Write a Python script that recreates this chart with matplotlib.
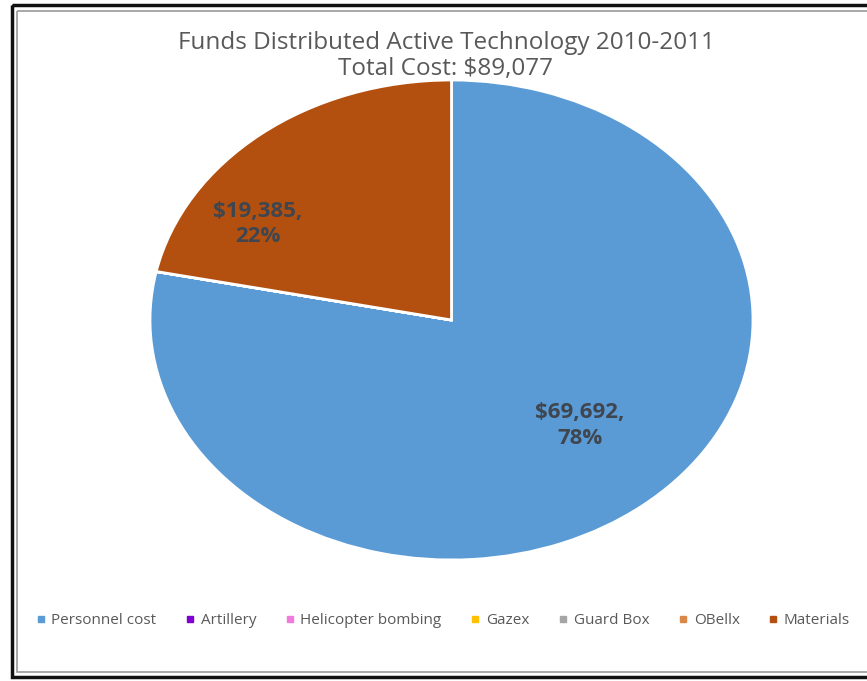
import matplotlib
matplotlib.use("Agg")
import matplotlib.pyplot as plt
from matplotlib.patches import Rectangle
from matplotlib.lines import Line2D

categories = ["Personnel cost", "Artillery", "Helicopter bombing", "Gazex", "Guard Box", "OBellx", "Materials"]
values = [69692, 0, 0, 0, 0, 0, 19385]
colors = ["#5B9BD5", "#7F00D0", "#F07BDC", "#FFC000", "#A5A5A5", "#D9884A", "#B4500F"]
title_lines = ["Funds Distributed Active Technology 2010-2011", "Total Cost: $89,077"]

plt.rcParams['font.family'] = ['Open Sans', 'DejaVu Sans']

W, H = 867, 681
fig = plt.figure(figsize=(W / 100, H / 100), dpi=100)
fig.patch.set_facecolor("white")

# frame
fax = fig.add_axes([0, 0, 1, 1])
fax.set_xlim(0, W)
fax.set_ylim(H, 0)
fax.axis("off")
fax.add_patch(Rectangle((11.5, 5), W + 10, 672, fill=False, edgecolor="#111111", lw=2.5))
fax.add_patch(Rectangle((16.5, 11), W + 10, 661, fill=False, edgecolor="#9a9a9a", lw=1.2))

# pie (elliptical)
left, right, top, bottom = 150, 753, 80, 560
ax = fig.add_axes([left / W, 1 - bottom / H, (right - left) / W, (bottom - top) / H])
total = sum(values)

def fmt(p):
    if p <= 0:
        return ""
    v = p * total / 100
    return "${:,.0f},\n{:.0f}%".format(v, p)

wedges, texts, autotexts = ax.pie(values, colors=colors, startangle=90, counterclock=False,
                                  autopct=fmt, pctdistance=0.5,
                                  wedgeprops=dict(edgecolor="white", linewidth=2),
                                  textprops=dict(color="#3F4650", fontsize=16, fontweight="bold"))
label_pos = {0: (0.425, -0.44), 6: (-0.642, 0.40)}
for i, t in enumerate(autotexts):
    t.set_ha("center")
    t.set_linespacing(1.3)
    if i in label_pos:
        t.set_position(label_pos[i])
ax.set_aspect("auto")
ax.set_xlim(-1, 1)
ax.set_ylim(-1, 1)

fig.text(446 / W, 1 - 43 / H, title_lines[0], ha="center", va="center", fontsize=17.5, color="#595959")
fig.text(446 / W, 1 - 69 / H, title_lines[1], ha="center", va="center", fontsize=17.5, color="#595959")

handles = [Line2D([], [], marker="s", linestyle="", markersize=4, markerfacecolor=c, markeredgecolor=c)
           for c in colors]
leg = fig.legend(handles, categories, loc="center", bbox_to_anchor=(443 / W, 1 - 621 / H), ncol=7,
                 frameon=False, fontsize=11, handlelength=0.6, handletextpad=0.4, columnspacing=1.9,
                 labelcolor="#595959")

fig.savefig("out.png", dpi=100, facecolor="white")
